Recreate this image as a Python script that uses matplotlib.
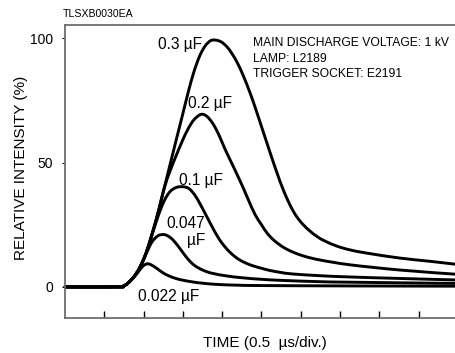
import matplotlib
matplotlib.use("Agg")
import matplotlib.pyplot as plt
from matplotlib.path import Path
from matplotlib.patches import PathPatch

plt.rcParams['font.family'] = ['Liberation Sans', 'DejaVu Sans']

# time in divisions (0.5 us/div), relative intensity in %
t_022 = [0, 1.35, 1.48, 1.60, 1.76, 1.91, 2.00, 2.09, 2.19, 2.34, 2.49, 2.65, 2.82, 3.00, 3.25, 3.50, 3.87, 4.40, 5.00, 7.25, 9.95]
i_022 = [0, 0, 0.3, 1.5, 4.0, 7.0, 8.6, 9.3, 8.9, 7.4, 5.7, 4.4, 3.4, 2.7, 2.0, 1.5, 1.0, 0.7, 0.55, 0.4, 0.3]

t_047 = [0, 1.35, 1.48, 1.60, 1.76, 1.91, 2.06, 2.21, 2.37, 2.54, 2.70, 2.85, 3.00, 3.15, 3.30, 3.50, 3.74, 4.12, 4.50, 4.96, 5.55, 6.50, 7.25, 9.95]
i_047 = [0, 0, 0.3, 1.5, 4.2, 8.0, 13.2, 18.0, 20.6, 21.0, 19.6, 17.0, 13.8, 10.8, 8.6, 6.8, 5.5, 4.4, 3.7, 3.1, 2.6, 2.1, 1.9, 1.4]

t_01 = [0, 1.35, 1.48, 1.60, 1.76, 1.91, 2.06, 2.21, 2.37, 2.52, 2.67, 2.83, 3.00, 3.15, 3.30, 3.45, 3.60, 3.75, 3.90, 4.05, 4.22, 4.40, 4.60, 4.80, 5.00, 5.22, 5.50, 5.80, 6.50, 7.25, 8.52, 9.95]
i_01 = [0, 0, 0.3, 1.5, 4.2, 8.0, 13.5, 20.8, 28.5, 34.5, 38.3, 40.0, 40.3, 39.6, 37.0, 33.0, 28.5, 24.0, 19.8, 16.5, 13.6, 11.3, 9.6, 8.4, 7.5, 6.6, 5.8, 5.2, 4.5, 4.0, 3.4, 2.8]

t_02 = [0, 1.35, 1.48, 1.60, 1.76, 1.91, 2.06, 2.21, 2.37, 2.52, 2.67, 2.82, 2.98, 3.13, 3.28, 3.46, 3.61, 3.77, 3.92, 4.07, 4.22, 4.37, 4.53, 4.68, 4.84, 5.00, 5.15, 5.32, 5.55, 5.80, 6.10, 6.50, 7.25, 8.52, 9.95]
i_02 = [0, 0, 0.3, 1.5, 4.2, 8.0, 13.5, 21.0, 30.0, 39.5, 46.5, 52.5, 58.5, 63.5, 67.2, 69.4, 68.6, 65.5, 61.0, 55.5, 50.5, 45.5, 40.0, 34.5, 29.0, 25.0, 21.5, 18.7, 16.0, 14.0, 12.3, 10.8, 8.9, 6.8, 5.1]

t_03 = [0, 1.35, 1.48, 1.60, 1.76, 1.91, 2.06, 2.21, 2.37, 2.52, 2.67, 2.82, 2.98, 3.13, 3.28, 3.43, 3.57, 3.70, 3.82, 3.97, 4.12, 4.25, 4.38, 4.53, 4.71, 4.86, 5.00, 5.14, 5.27, 5.40, 5.53, 5.67, 5.80, 5.93, 6.07, 6.23, 6.42, 6.62, 6.92, 7.25, 7.68, 8.52, 9.29, 9.95]
i_03 = [0, 0, 0.3, 1.5, 4.2, 8.0, 13.5, 21.0, 30.0, 39.5, 49.0, 58.5, 68.5, 78.0, 86.5, 93.0, 97.0, 99.0, 99.3, 98.6, 96.6, 93.8, 90.3, 85.2, 78.0, 71.2, 64.5, 57.8, 51.6, 45.6, 40.0, 34.8, 30.7, 27.5, 24.9, 22.5, 20.2, 18.4, 16.4, 14.9, 13.6, 11.6, 10.3, 9.1]

series = [(t_022, i_022), (t_047, i_047), (t_01, i_01), (t_02, i_02), (t_03, i_03)]


def smooth_path(xs, ys):
    """Catmull-Rom curve through the given points, drawn as cubic Bezier segments."""
    pts = list(zip(xs, ys))
    verts = [pts[0]]
    codes = [Path.MOVETO]
    n = len(pts)
    for i in range(n - 1):
        p0 = pts[i - 1] if i > 0 else pts[i]
        p1 = pts[i]
        p2 = pts[i + 1]
        p3 = pts[i + 2] if i + 2 < n else pts[i + 1]
        c1 = (p1[0] + (p2[0] - p0[0]) / 6.0, p1[1] + (p2[1] - p0[1]) / 6.0)
        c2 = (p2[0] - (p3[0] - p1[0]) / 6.0, p2[1] - (p3[1] - p1[1]) / 6.0)
        verts += [c1, c2, p2]
        codes += [Path.CURVE4] * 3
    return Path(verts, codes)


W, H = 456, 353
fig = plt.figure(figsize=(W / 100, H / 100), dpi=100)
ax = fig.add_axes([65 / W, 1 - 318 / H, 393 / W, 293 / H])

for t, v in series:
    patch = PathPatch(smooth_path(t, v), facecolor='none', edgecolor='black', lw=2.1,
                      joinstyle='round', capstyle='round', clip_on=False)
    ax.add_patch(patch)

ax.set_xlim(0, 10)
ax.set_ylim(-12.5, 105.35)

gray = '#6e6e6e'
for s in ['left', 'top', 'bottom']:
    ax.spines[s].set_color(gray)
    ax.spines[s].set_linewidth(1.3)
ax.spines['right'].set_visible(False)

ax.set_xticks(range(1, 10))
ax.set_xticklabels([])
ax.tick_params(axis='x', direction='in', length=5, width=1.0, color='black')
ax.set_yticks([0, 50, 100])
ax.set_yticklabels(['0', '50', '100'])
ax.tick_params(axis='y', direction='out', length=2.5, width=0.8, color='black', labelsize=10, pad=6)

fig.text(21 / W, 1 - 168 / H, 'RELATIVE INTENSITY (%)', fontsize=11, rotation=90,
         ha='center', va='center')
fig.text(265 / W, 1 - 343 / H, 'TIME (0.5  \u00b5s/div.)', fontsize=11, ha='center', va='center')

lbl = dict(fontsize=11.2, va='center')
ax.text(3.49, 97.7, '0.3 \u00b5F', ha='right', **lbl)
ax.text(4.25, 73.8, '0.2 \u00b5F', ha='right', **lbl)
ax.text(4.02, 43.0, '0.1 \u00b5F', ha='right', **lbl)
ax.text(3.56, 25.7, '0.047', ha='right', **lbl)
ax.text(3.56, 18.5, '\u00b5F', ha='right', **lbl)
ax.text(1.86, -4.0, '0.022 \u00b5F', ha='left', **lbl)

info = ['MAIN DISCHARGE VOLTAGE: 1 kV', 'LAMP: L2189', 'TRIGGER SOCKET: E2191']
for s, y in zip(info, [43, 58.5, 74]):
    fig.text(253 / W, 1 - y / H, s, fontsize=8.7, ha='left', va='center')

fig.text(63 / W, 1 - 14 / H, 'TLSXB0030EA', fontsize=7.6, ha='left', va='center')

fig.savefig('out.png', dpi=100)
